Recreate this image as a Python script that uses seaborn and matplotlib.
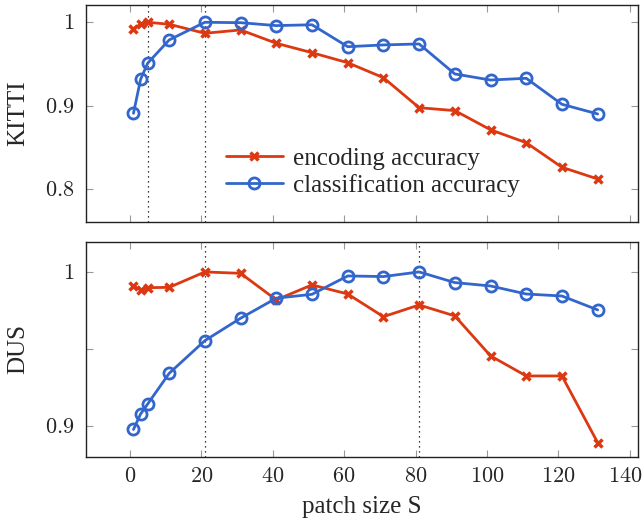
import matplotlib
matplotlib.use("Agg")
import matplotlib.pyplot as plt
import matplotlib.transforms as mtransforms
import numpy as np
import pandas as pd
import seaborn as sns

# patch sizes (shared x)
patch_sizes = [1, 3, 5, 11, 21, 31, 41, 51, 61, 71, 81, 91, 101, 111, 121, 131]

kitti_encoding = [0.9916, 0.998, 1.0, 0.9976, 0.9868, 0.9908, 0.9748, 0.9635,
                  0.9515, 0.9335, 0.8975, 0.894, 0.871, 0.8555, 0.826, 0.812]
kitti_classification = [0.8908, 0.9316, 0.951, 0.9788, 1.0, 0.9995, 0.996, 0.997,
                        0.9707, 0.9728, 0.974, 0.938, 0.9307, 0.9328, 0.9016, 0.89]

dus_encoding = [0.9909, 0.9883, 0.9898, 0.99, 1.0, 0.9991, 0.9819, 0.9916,
                0.9857, 0.971, 0.9786, 0.9715, 0.9456, 0.9326, 0.9326, 0.8894]
dus_classification = [0.8979, 0.908, 0.9145, 0.9343, 0.9555, 0.97, 0.983, 0.9855,
                      0.9974, 0.997, 1.0, 0.9931, 0.9909, 0.9857, 0.9844, 0.9754]

series_labels = ["encoding accuracy", "classification accuracy"]
panel_names = ["KITTI", "DUS"]
x_ticks = [0, 20, 40, 60, 80, 100, 120, 140]
kitti_yticks = [0.8, 0.9, 1.0]
kitti_yticklabels = ["0.8", "0.9", "1"]
dus_yticks = [0.9, 0.95, 1.0]
dus_yticklabels = ["0.9", "", "1"]

RED = "#dc3912"
BLUE = "#3366cc"
FS = 18
TICK_FS = 16

sns.set_theme(style="ticks")
plt.rcParams["font.family"] = ["Liberation Serif", "DejaVu Serif"]
plt.rcParams["mathtext.fontset"] = "cm"

fig = plt.figure(figsize=(6.44, 5.27), dpi=100)
ax_top = fig.add_axes([0.1335, 0.5793, 0.8572, 0.4107])
ax_bot = fig.add_axes([0.1335, 0.1323, 0.8572, 0.4091])

panels = [
    (ax_top, kitti_encoding, kitti_classification, (0.7607, 1.0204), kitti_yticks, kitti_yticklabels),
    (ax_bot, dus_encoding, dus_classification, (0.8799, 1.0196), dus_yticks, dus_yticklabels),
]

for i, (ax, enc, cls, ylim, yt, ytl) in enumerate(panels):
    df = pd.DataFrame({"S": patch_sizes, "enc": enc, "cls": cls})
    # dotted lines at the best patch size of each series
    for col in ["enc", "cls"]:
        best = df.loc[df[col].idxmax(), "S"]
        ax.axvline(best, color="black", linestyle=(0, (1, 3)), linewidth=0.9, zorder=1)
    sns.lineplot(data=df, x="S", y="enc", ax=ax, color=RED, linewidth=2,
                 marker="x", markersize=6, markeredgewidth=2.5, markeredgecolor=RED,
                 label=series_labels[0], legend=False, zorder=3)
    sns.lineplot(data=df, x="S", y="cls", ax=ax, color=BLUE, linewidth=2,
                 marker="o", markersize=8, markerfacecolor="none", markeredgewidth=2,
                 markeredgecolor=BLUE, label=series_labels[1], legend=False, zorder=4)
    ax.set_xlim(-12.3, 142.3)
    ax.set_ylim(*ylim)
    ax.set_xticks(x_ticks)
    ax.set_xticklabels([f"${t}$" for t in x_ticks])
    ax.set_yticks(yt)
    ax.set_yticklabels([f"${t}$" if t else "" for t in ytl])
    ax.set_ylabel(panel_names[i], fontsize=FS, labelpad=12)
    ax.tick_params(direction="in", length=5, width=0.8, color="#999999",
                   top=True, right=True, labelsize=TICK_FS, pad=8)
    for sp in ax.spines.values():
        sp.set_linewidth(1.0)
        sp.set_color("#222222")

ax_top.tick_params(labelbottom=False)
ax_top.set_xlabel("")
ax_bot.set_xlabel("patch size S", fontsize=FS, labelpad=6)

# keep the last x tick label inside the canvas
last = ax_bot.get_xticklabels()[-1]
last.set_transform(last.get_transform() + mtransforms.ScaledTranslation(-5 / 100, 0, fig.dpi_scale_trans))

ax_top.legend(loc="upper left", bbox_to_anchor=(0.235, 0.39), frameon=False,
              fontsize=FS, handlelength=2.3, handletextpad=0.4, borderaxespad=0,
              labelspacing=0.15)

fig.savefig("out.png", dpi=100)
